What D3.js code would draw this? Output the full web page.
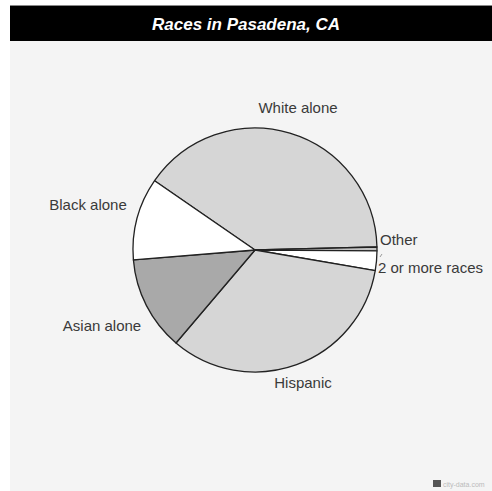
<!DOCTYPE html>
<html><head><meta charset="utf-8">
<script src="https://cdn.jsdelivr.net/npm/d3@7"></script>
<style>html,body{margin:0;padding:0;background:#fff;}</style>
</head><body>
<svg id="chart" width="492" height="491"></svg>
<script>
const title = "Races in Pasadena, CA";
const categories = ["White alone", "Other", "2 or more races", "Hispanic", "Asian alone", "Black alone"];
const values = [40.0, 0.5, 2.6, 33.5, 12.5, 10.9];
const fills = ["#d6d6d6", "#c4c4c4", "#ffffff", "#d6d6d6", "#a9a9a9", "#ffffff"];
const labelPos = [[298, 113], [380, 245], [378, 273], [303, 388], [102, 331], [88, 210]];
const labelAnchor = ["middle", "start", "start", "middle", "middle", "middle"];

const svg = d3.select("#chart");
svg.append("rect").attr("x", 10).attr("y", 6).attr("width", 482).attr("height", 485).attr("fill", "#f4f4f4");
svg.append("rect").attr("x", 10).attr("y", 5).attr("width", 482).attr("height", 1).attr("fill", "#888");
svg.append("rect").attr("x", 10).attr("y", 6).attr("width", 482).attr("height", 35).attr("fill", "#000");
svg.append("text").attr("x", 246).attr("y", 30).attr("text-anchor", "middle")
  .attr("font-family", "Liberation Sans, Arial, sans-serif").attr("font-weight", "bold").attr("font-style", "italic")
  .attr("font-size", 17).attr("fill", "#fff").text(title);

const cx = 255, cy = 250, r = 122;
const start = -55.4 * Math.PI / 180;
const pie = d3.pie().sort(null).startAngle(start).endAngle(start + 2 * Math.PI);
const arcs = pie(values);
const arc = d3.arc().innerRadius(0).outerRadius(r);
const g = svg.append("g").attr("transform", `translate(${cx},${cy})`);
g.selectAll("path").data(arcs).enter().append("path")
  .attr("d", arc).attr("fill", (d, i) => fills[i])
  .attr("stroke", "#222").attr("stroke-width", 1.3).attr("stroke-linejoin", "round");

svg.selectAll("text.lbl").data(categories).enter().append("text").attr("class", "lbl")
  .attr("x", (d, i) => labelPos[i][0]).attr("y", (d, i) => labelPos[i][1])
  .attr("text-anchor", (d, i) => labelAnchor[i])
  .attr("font-family", "Liberation Sans, Arial, sans-serif").attr("font-size", 15)
  .attr("fill", "#3a3a3a").text(d => d);

// small tick mark between Other and 2 or more
svg.append("line").attr("x1", 380).attr("y1", 257).attr("x2", 382).attr("y2", 254).attr("stroke", "#999").attr("stroke-width", 1);

// watermark
svg.append("rect").attr("x", 433).attr("y", 480).attr("width", 8).attr("height", 7).attr("fill", "#555");
svg.append("text").attr("x", 443).attr("y", 487).attr("font-family", "Liberation Sans, Arial, sans-serif")
  .attr("font-size", 7).attr("fill", "#bbb").text("city-data.com");
</script>
</body></html>
